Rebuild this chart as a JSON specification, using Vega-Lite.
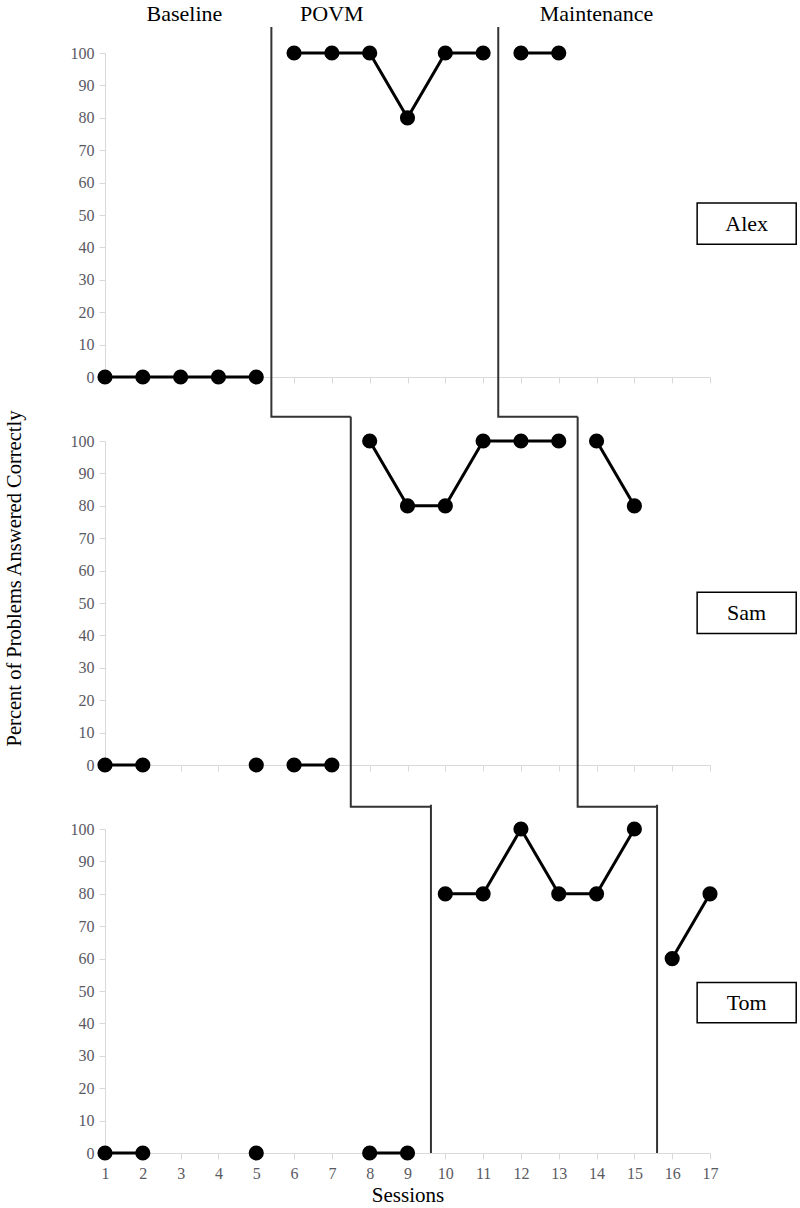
{
  "$schema": "https://vega.github.io/schema/vega-lite/v6.json",
  "background": "white",
  "padding": {"left": 3, "top": 3, "right": 3, "bottom": 0},
  "config": {
    "view": {"stroke": null},
    "font": "Liberation Serif",
    "axis": {
      "domainColor": "#d9d9d9", "tickColor": "#d9d9d9", "tickSize": 6, "grid": false,
      "labelOverlap": false, "labelFlush": false,
      "labelFont": "Liberation Serif", "labelFontSize": 16, "labelColor": "#595962",
      "titleFont": "Liberation Serif", "titleFontSize": 20, "titleFontWeight": "normal", "titleColor": "black"
    }
  },
  "datasets": {
    "scores": [
      {"student": "Alex", "session": 1, "pct": 0, "seg": "a"},
      {"student": "Alex", "session": 2, "pct": 0, "seg": "a"},
      {"student": "Alex", "session": 3, "pct": 0, "seg": "a"},
      {"student": "Alex", "session": 4, "pct": 0, "seg": "a"},
      {"student": "Alex", "session": 5, "pct": 0, "seg": "a"},
      {"student": "Alex", "session": 6, "pct": 100, "seg": "b"},
      {"student": "Alex", "session": 7, "pct": 100, "seg": "b"},
      {"student": "Alex", "session": 8, "pct": 100, "seg": "b"},
      {"student": "Alex", "session": 9, "pct": 80, "seg": "b"},
      {"student": "Alex", "session": 10, "pct": 100, "seg": "b"},
      {"student": "Alex", "session": 11, "pct": 100, "seg": "b"},
      {"student": "Alex", "session": 12, "pct": 100, "seg": "c"},
      {"student": "Alex", "session": 13, "pct": 100, "seg": "c"},
      {"student": "Sam", "session": 1, "pct": 0, "seg": "a"},
      {"student": "Sam", "session": 2, "pct": 0, "seg": "a"},
      {"student": "Sam", "session": 5, "pct": 0, "seg": "b"},
      {"student": "Sam", "session": 6, "pct": 0, "seg": "c"},
      {"student": "Sam", "session": 7, "pct": 0, "seg": "c"},
      {"student": "Sam", "session": 8, "pct": 100, "seg": "d"},
      {"student": "Sam", "session": 9, "pct": 80, "seg": "d"},
      {"student": "Sam", "session": 10, "pct": 80, "seg": "d"},
      {"student": "Sam", "session": 11, "pct": 100, "seg": "d"},
      {"student": "Sam", "session": 12, "pct": 100, "seg": "d"},
      {"student": "Sam", "session": 13, "pct": 100, "seg": "d"},
      {"student": "Sam", "session": 14, "pct": 100, "seg": "e"},
      {"student": "Sam", "session": 15, "pct": 80, "seg": "e"},
      {"student": "Tom", "session": 1, "pct": 0, "seg": "a"},
      {"student": "Tom", "session": 2, "pct": 0, "seg": "a"},
      {"student": "Tom", "session": 5, "pct": 0, "seg": "b"},
      {"student": "Tom", "session": 8, "pct": 0, "seg": "c"},
      {"student": "Tom", "session": 9, "pct": 0, "seg": "c"},
      {"student": "Tom", "session": 10, "pct": 80, "seg": "d"},
      {"student": "Tom", "session": 11, "pct": 80, "seg": "d"},
      {"student": "Tom", "session": 12, "pct": 100, "seg": "d"},
      {"student": "Tom", "session": 13, "pct": 80, "seg": "d"},
      {"student": "Tom", "session": 14, "pct": 80, "seg": "d"},
      {"student": "Tom", "session": 15, "pct": 100, "seg": "d"},
      {"student": "Tom", "session": 16, "pct": 60, "seg": "e"},
      {"student": "Tom", "session": 17, "pct": 80, "seg": "e"}
    ],
    "phaselines": [
      {"student": "Alex", "line": "A", "o": 1, "session": 5.4, "pct": 108},
      {"student": "Alex", "line": "A", "o": 2, "session": 5.4, "pct": -12.3},
      {"student": "Alex", "line": "A", "o": 3, "session": 7.5, "pct": -12.3},
      {"student": "Alex", "line": "B", "o": 1, "session": 11.4, "pct": 108},
      {"student": "Alex", "line": "B", "o": 2, "session": 11.4, "pct": -12.3},
      {"student": "Alex", "line": "B", "o": 3, "session": 13.5, "pct": -12.3},
      {"student": "Sam", "line": "A", "o": 1, "session": 7.5, "pct": 107.5},
      {"student": "Sam", "line": "A", "o": 2, "session": 7.5, "pct": -12.9},
      {"student": "Sam", "line": "A", "o": 3, "session": 9.62, "pct": -12.9},
      {"student": "Sam", "line": "B", "o": 1, "session": 13.5, "pct": 107.5},
      {"student": "Sam", "line": "B", "o": 2, "session": 13.5, "pct": -12.9},
      {"student": "Sam", "line": "B", "o": 3, "session": 15.6, "pct": -12.9},
      {"student": "Tom", "line": "A", "o": 1, "session": 9.62, "pct": 107.5},
      {"student": "Tom", "line": "A", "o": 2, "session": 9.62, "pct": 0},
      {"student": "Tom", "line": "B", "o": 1, "session": 15.6, "pct": 107.5},
      {"student": "Tom", "line": "B", "o": 2, "session": 15.6, "pct": 0}
    ],
    "phaselabels": [
      {"label": "Baseline", "session": 3.1},
      {"label": "POVM", "session": 7.0},
      {"label": "Maintenance", "session": 14.0}
    ]
  },
  "spacing": 64,
  "bounds": "flush",
  "vconcat": [
    {
      "width": 605, "height": 324,
      "layer": [
        {
          "data": {"name": "phaselines"},
          "transform": [{"filter": "datum.student === 'Alex'"}],
          "mark": {"type": "line", "color": "#333333", "strokeWidth": 2, "clip": false},
          "encoding": {
            "x": {"field": "session", "type": "quantitative", "scale": {"domain": [1, 17], "nice": false, "zero": false},
                  "axis": {"tickCount": 16, "tickMinStep": 1, "labels": false, "title": null}},
            "y": {"field": "pct", "type": "quantitative", "scale": {"domain": [0, 100], "nice": false},
                  "axis": {"tickCount": 10, "title": null, "labelPadding": 5}},
            "detail": {"field": "line"},
            "order": {"field": "o"}
          }
        },
        {
          "data": {"name": "scores"},
          "transform": [{"filter": "datum.student === 'Alex'"}],
          "mark": {"type": "line", "color": "black", "strokeWidth": 3, "clip": false},
          "encoding": {
            "x": {"field": "session", "type": "quantitative"},
            "y": {"field": "pct", "type": "quantitative"},
            "detail": {"field": "seg"}
          }
        },
        {
          "data": {"name": "scores"},
          "transform": [{"filter": "datum.student === 'Alex'"}],
          "mark": {"type": "point", "filled": true, "color": "black", "size": 230, "opacity": 1, "clip": false},
          "encoding": {
            "x": {"field": "session", "type": "quantitative"},
            "y": {"field": "pct", "type": "quantitative"}
          }
        },
        {
          "data": {"values": [{"name": "Alex"}]},
          "mark": {"type": "rect", "fill": "white", "stroke": "black", "strokeWidth": 1.5, "clip": false},
          "encoding": {
            "x": {"datum": 16.66}, "x2": {"datum": 19.28},
            "y": {"datum": 41.0}, "y2": {"datum": 53.7}
          }
        },
        {
          "data": {"values": [{"name": "Alex"}]},
          "mark": {"type": "text", "fontSize": 22, "font": "Liberation Serif", "color": "black", "baseline": "middle", "align": "center", "clip": false},
          "encoding": {
            "x": {"datum": 17.97}, "y": {"datum": 47.3},
            "text": {"field": "name"}
          }
        },
        {
          "data": {"name": "phaselabels"},
          "mark": {"type": "text", "fontSize": 22, "font": "Liberation Serif", "color": "black", "baseline": "middle", "align": "center", "clip": false},
          "encoding": {
            "x": {"field": "session", "type": "quantitative"},
            "y": {"datum": 112},
            "text": {"field": "label"}
          }
        }
      ]
    },
    {
      "width": 605, "height": 324,
      "layer": [
        {
          "data": {"name": "phaselines"},
          "transform": [{"filter": "datum.student === 'Sam'"}],
          "mark": {"type": "line", "color": "#333333", "strokeWidth": 2, "clip": false},
          "encoding": {
            "x": {"field": "session", "type": "quantitative", "scale": {"domain": [1, 17], "nice": false, "zero": false},
                  "axis": {"tickCount": 16, "tickMinStep": 1, "labels": false, "title": null}},
            "y": {"field": "pct", "type": "quantitative", "scale": {"domain": [0, 100], "nice": false},
                  "axis": {"tickCount": 10, "title": "Percent of Problems Answered Correctly", "titleFontSize": 20.5, "labelPadding": 5, "titlePadding": 46, "titleY": 137}},
            "detail": {"field": "line"},
            "order": {"field": "o"}
          }
        },
        {
          "data": {"name": "scores"},
          "transform": [{"filter": "datum.student === 'Sam'"}],
          "mark": {"type": "line", "color": "black", "strokeWidth": 3, "clip": false},
          "encoding": {
            "x": {"field": "session", "type": "quantitative"},
            "y": {"field": "pct", "type": "quantitative"},
            "detail": {"field": "seg"}
          }
        },
        {
          "data": {"name": "scores"},
          "transform": [{"filter": "datum.student === 'Sam'"}],
          "mark": {"type": "point", "filled": true, "color": "black", "size": 230, "opacity": 1, "clip": false},
          "encoding": {
            "x": {"field": "session", "type": "quantitative"},
            "y": {"field": "pct", "type": "quantitative"}
          }
        },
        {
          "data": {"values": [{"name": "Sam"}]},
          "mark": {"type": "rect", "fill": "white", "stroke": "black", "strokeWidth": 1.5, "clip": false},
          "encoding": {
            "x": {"datum": 16.66}, "x2": {"datum": 19.28},
            "y": {"datum": 40.6}, "y2": {"datum": 53.3}
          }
        },
        {
          "data": {"values": [{"name": "Sam"}]},
          "mark": {"type": "text", "fontSize": 22, "font": "Liberation Serif", "color": "black", "baseline": "middle", "align": "center", "clip": false},
          "encoding": {
            "x": {"datum": 17.97}, "y": {"datum": 46.9},
            "text": {"field": "name"}
          }
        }
      ]
    },
    {
      "width": 605, "height": 324,
      "layer": [
        {
          "data": {"name": "phaselines"},
          "transform": [{"filter": "datum.student === 'Tom'"}],
          "mark": {"type": "line", "color": "#333333", "strokeWidth": 2, "clip": false},
          "encoding": {
            "x": {"field": "session", "type": "quantitative", "scale": {"domain": [1, 17], "nice": false, "zero": false},
                  "axis": {"tickCount": 16, "tickMinStep": 1, "title": "Sessions", "titleFontSize": 21, "labelPadding": 6, "titlePadding": 3}},
            "y": {"field": "pct", "type": "quantitative", "scale": {"domain": [0, 100], "nice": false},
                  "axis": {"tickCount": 10, "title": null, "labelPadding": 5}},
            "detail": {"field": "line"},
            "order": {"field": "o"}
          }
        },
        {
          "data": {"name": "scores"},
          "transform": [{"filter": "datum.student === 'Tom'"}],
          "mark": {"type": "line", "color": "black", "strokeWidth": 3, "clip": false},
          "encoding": {
            "x": {"field": "session", "type": "quantitative"},
            "y": {"field": "pct", "type": "quantitative"},
            "detail": {"field": "seg"}
          }
        },
        {
          "data": {"name": "scores"},
          "transform": [{"filter": "datum.student === 'Tom'"}],
          "mark": {"type": "point", "filled": true, "color": "black", "size": 230, "opacity": 1, "clip": false},
          "encoding": {
            "x": {"field": "session", "type": "quantitative"},
            "y": {"field": "pct", "type": "quantitative"}
          }
        },
        {
          "data": {"values": [{"name": "Tom"}]},
          "mark": {"type": "rect", "fill": "white", "stroke": "black", "strokeWidth": 1.5, "clip": false},
          "encoding": {
            "x": {"datum": 16.66}, "x2": {"datum": 19.28},
            "y": {"datum": 40.2}, "y2": {"datum": 52.6}
          }
        },
        {
          "data": {"values": [{"name": "Tom"}]},
          "mark": {"type": "text", "fontSize": 22, "font": "Liberation Serif", "color": "black", "baseline": "middle", "align": "center", "clip": false},
          "encoding": {
            "x": {"datum": 17.97}, "y": {"datum": 46.4},
            "text": {"field": "name"}
          }
        }
      ]
    }
  ]
}
